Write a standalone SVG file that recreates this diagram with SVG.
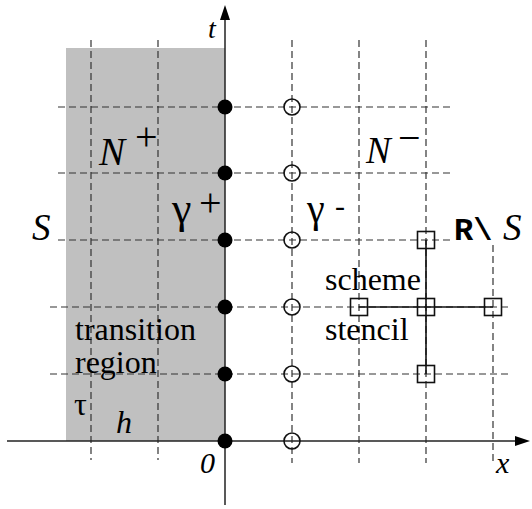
<svg xmlns="http://www.w3.org/2000/svg" width="532" height="509" viewBox="0 0 532 509">
<style>
.grid{stroke:#333;stroke-width:1.2;stroke-dasharray:7 4;fill:none}
.axis{stroke:#222;stroke-width:1.5;fill:none}
.dot{fill:#000}
.ring{fill:none;stroke:#111;stroke-width:1.6}
.sq{fill:none;stroke:#111;stroke-width:1.6}
.link{stroke:#111;stroke-width:1.6;fill:none}
text{fill:#000}
</style>
<rect id="transition-region" x="66" y="48" width="159" height="393" fill="#c0c0c0"/>
<g id="grid">
<line class="grid" x1="91" y1="40" x2="91" y2="460"/>
<line class="grid" x1="158" y1="40" x2="158" y2="460"/>
<line class="grid" x1="292" y1="40" x2="292" y2="463"/>
<line class="grid" x1="359" y1="40" x2="359" y2="463"/>
<line class="grid" x1="426" y1="40" x2="426" y2="463"/>
<line class="grid" x1="493" y1="245" x2="493" y2="463"/>
<line class="grid" x1="58" y1="107" x2="454" y2="107"/>
<line class="grid" x1="58" y1="173" x2="454" y2="173"/>
<line class="grid" x1="58" y1="240" x2="453" y2="240"/>
<line class="grid" x1="50" y1="307" x2="508" y2="307"/>
<line class="grid" x1="50" y1="374" x2="508" y2="374"/>
</g>
<g id="axes">
<line class="axis" x1="7" y1="441" x2="518" y2="441"/>
<polygon points="530,441 515,436 515,446" fill="#000"/>
<line class="axis" x1="225" y1="505" x2="225" y2="17" stroke="#555"/>
<polygon points="225,5 220,20 230,20" fill="#000"/>
</g>
<g id="connectors">
<line class="link" x1="359" y1="307" x2="493" y2="307"/>
<line class="link" x1="426" y1="240" x2="426" y2="374"/>
</g>
<g id="gamma-plus-nodes">
<circle class="dot" cx="225" cy="107" r="7.5"/>
<circle class="dot" cx="225" cy="173" r="7.5"/>
<circle class="dot" cx="225" cy="240" r="7.5"/>
<circle class="dot" cx="225" cy="307" r="7.5"/>
<circle class="dot" cx="225" cy="374" r="7.5"/>
<circle class="dot" cx="225" cy="441" r="7.5"/>
</g>
<g id="gamma-minus-nodes">
<circle class="ring" cx="292" cy="107" r="8"/>
<circle class="ring" cx="292" cy="173" r="8"/>
<circle class="ring" cx="292" cy="240" r="8"/>
<circle class="ring" cx="292" cy="307" r="8"/>
<circle class="ring" cx="292" cy="374" r="8"/>
<circle class="ring" cx="292" cy="441" r="8"/>
</g>
<g id="stencil-nodes">
<rect class="sq" x="417.5" y="231.5" width="17" height="17"/>
<rect class="sq" x="350.5" y="298.5" width="17" height="17"/>
<rect class="sq" x="417.5" y="298.5" width="17" height="17"/>
<rect class="sq" x="484.5" y="298.5" width="17" height="17"/>
<rect class="sq" x="417.5" y="365.5" width="17" height="17"/>
</g>
<g id="labels" font-family="Liberation Serif, serif">
<text x="208" y="38" font-size="28" font-style="italic">t</text>
<text x="496" y="473" font-size="30" font-style="italic">x</text>
<text x="200" y="473" font-size="30" font-style="italic">0</text>
<text x="32" y="240" font-size="37" font-style="italic">S</text>
<text x="99" y="165" font-size="39" font-style="italic">N</text>
<text x="135" y="150" font-size="40">+</text>
<text x="366" y="163" font-size="37" font-style="italic">N</text>
<text x="398" y="151" font-size="40">−</text>
<text x="172" y="223" font-size="44">γ</text>
<text x="199" y="216" font-size="40">+</text>
<text x="307" y="222" font-size="40">γ</text>
<text x="335" y="216" font-size="30">-</text>
<text x="454" y="240" font-size="32" font-family="Liberation Mono, monospace" font-weight="bold">R\</text>
<text x="503" y="240" font-size="37" font-style="italic">S</text>
<text x="325" y="290" font-size="32">scheme</text>
<text x="325" y="340" font-size="32">stencil</text>
<text x="75" y="340" font-size="32">transition</text>
<text x="75" y="373" font-size="32">region</text>
<text x="74" y="415" font-size="32">τ</text>
<text x="116" y="433" font-size="32" font-style="italic">h</text>
</g>
</svg>
